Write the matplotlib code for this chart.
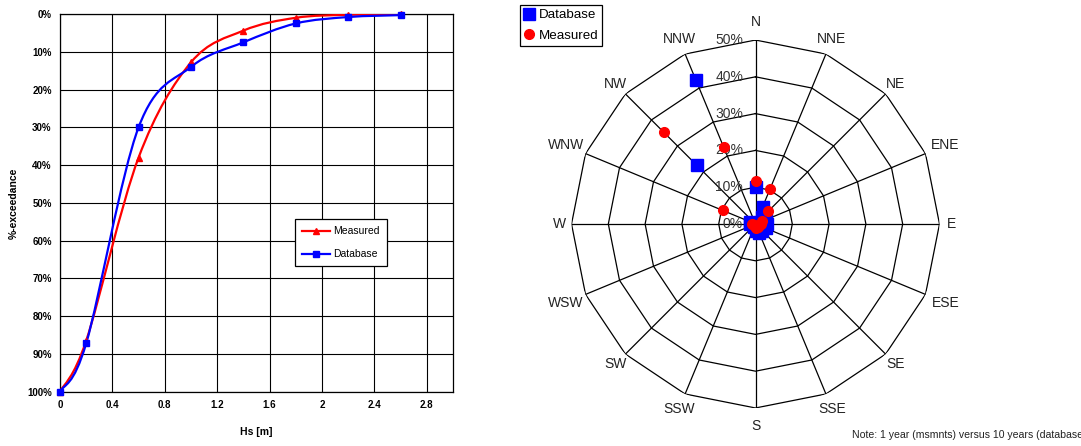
import numpy as np
import matplotlib.pyplot as plt
from matplotlib.path import Path
from matplotlib.patches import PathPatch
from matplotlib.lines import Line2D

plt.rcParams['font.family'] = ['Liberation Sans', 'DejaVu Sans']

# exceedance curves (Hs in m, % of time exceeded)
hs = [0.0, 0.2, 0.6, 1.0, 1.4, 1.8, 2.2, 2.6]
exc_measured = [100.0, 86.5, 38.0, 12.8, 4.4, 1.0, 0.2, 0.0]
exc_database = [100.0, 87.2, 30.0, 14.0, 7.5, 2.5, 0.8, 0.3]

# directional distribution (% of occurrence per sector)
directions = ['N', 'NNE', 'NE', 'ENE', 'E', 'ESE', 'SE', 'SSE',
              'S', 'SSW', 'SW', 'WSW', 'W', 'WNW', 'NW', 'NNW']
dir_database = [10.0, 5.0, 2.5, 3.0, 3.0, 3.0, 2.5, 2.5,
                2.0, 1.0, 0.5, 0.5, 1.5, 1.5, 22.5, 42.3]
dir_measured = [11.7, 10.2, 4.9, 2.0, 1.5, 1.0, 1.0, 1.0,
                1.0, 0.5, 0.5, 0.5, 1.0, 9.7, 35.3, 22.7]
ring_values = [0, 10, 20, 30, 40, 50]


def smooth_path(x, y):
    # cubic bezier through the points, like a spreadsheet "smoothed line"
    p = np.column_stack([x, y]).astype(float)
    ext = np.vstack([p[0], p, p[-1]])
    verts = [p[0]]
    codes = [Path.MOVETO]
    for i in range(len(p) - 1):
        p0, p1, p2, p3 = ext[i], ext[i + 1], ext[i + 2], ext[i + 3]
        c1 = p1 + (p2 - p0) / 6.0
        c2 = p2 - (p3 - p1) / 6.0
        verts += [c1, c2, p2]
        codes += [Path.CURVE4] * 3
    return Path(verts, codes)


fig = plt.figure(figsize=(10.81, 4.46), dpi=100)

# ---- left: exceedance plot
ax = fig.add_axes([0.0555, 0.1218, 0.3635, 0.8468])
for xs, ys, col, mk in [(hs, exc_measured, 'red', '^'), (hs, exc_database, 'blue', 's')]:
    ax.add_patch(PathPatch(smooth_path(xs, ys), fill=False, edgecolor=col, lw=1.6, zorder=3))
    ax.plot(xs, ys, linestyle='none', marker=mk, color=col, ms=4.5, zorder=4, clip_on=False)

ax.set_xlim(0, 3.0)
ax.set_ylim(100, 0)
ax.set_xticks(np.arange(0, 2.81, 0.4))
ax.set_xticklabels(['0', '0.4', '0.8', '1.2', '1.6', '2', '2.4', '2.8'])
ax.set_yticks(np.arange(0, 101, 10))
ax.set_yticklabels([f'{v}%' for v in range(0, 101, 10)])
ax.grid(True, color='black', lw=0.8)
ax.tick_params(length=0, labelsize=7, pad=6)
for lab in ax.get_xticklabels() + ax.get_yticklabels():
    lab.set_fontweight('bold')
for s in ax.spines.values():
    s.set_color('black')
    s.set_linewidth(0.9)
ax.set_xlabel('Hs [m]', fontsize=7.5, fontweight='bold', labelpad=12)
ax.set_ylabel('%-exceedance', fontsize=7.5, fontweight='bold', labelpad=6)

handles = [Line2D([], [], color='red', lw=1.6, marker='^', ms=4.5),
           Line2D([], [], color='blue', lw=1.6, marker='s', ms=4.5)]
leg = ax.legend(handles, ['Measured', 'Database'], loc='upper left',
                bbox_to_anchor=(0.598, 0.457), fontsize=7.5, frameon=True,
                fancybox=False, edgecolor='black', framealpha=1,
                handlelength=2.7, labelspacing=1.25, borderpad=0.68,
                handletextpad=0.3, borderaxespad=0)
leg.get_frame().set_linewidth(0.9)

# ---- right: directional radar
theta = np.deg2rad(np.arange(16) * 22.5)
rax = fig.add_axes([0.5287, 0.0852, 0.3404, 0.8251], projection='polar')
rax.set_theta_zero_location('N')
rax.set_theta_direction(-1)
rax.set_ylim(0, 50)
rax.grid(False)
rax.spines['polar'].set_visible(False)
rax.set_yticks([])
rax.set_xticks([])

closed = np.append(theta, theta[0])
for r in ring_values[1:]:
    rax.plot(closed, [r] * len(closed), color='black', lw=0.9, zorder=1)
for t in theta:
    rax.plot([t, t], [0, 50], color='black', lw=0.9, zorder=1)
for r in ring_values:
    rax.annotate(f'{r}%', xy=(0, r), xytext=(-9, 0), textcoords='offset points',
                 ha='right', va='center', fontsize=10, color='#333333', zorder=2)

# direction names around the outer polygon, pushed out a bit more for wide names
for t, name in zip(theta, directions):
    s, c = np.sin(t), np.cos(t)
    dist = 190 + 5.6 * len(name) * abs(s) + 12 * abs(c) ** 16
    rax.annotate(name, xy=(t, 0), xytext=(dist * s, dist * c),
                 textcoords='offset pixels', ha='center', va='center',
                 fontsize=10, color='#222222', annotation_clip=False)

rax.plot(theta, dir_database, linestyle='none', marker='s', color='blue',
         ms=8, label='Database', zorder=3, clip_on=False)
rax.plot(theta, dir_measured, linestyle='none', marker='o', color='red',
         ms=7, label='Measured', zorder=4, clip_on=False)
rleg = rax.legend(loc='upper left', bbox_to_anchor=(520 / 1081, 1 - 5 / 446),
                  bbox_transform=fig.transFigure, fontsize=9.6, frameon=True,
                  fancybox=False, edgecolor='black', framealpha=1,
                  handlelength=0.8, handletextpad=0.3, borderpad=0.3,
                  labelspacing=0.6, borderaxespad=0)
rleg.get_frame().set_linewidth(0.9)

fig.text(852 / 1081, 11 / 446, 'Note: 1 year (msmnts) versus 10 years (database)',
         fontsize=7.6, ha='left', va='center', color='#222222')

fig.savefig('out.png', dpi=100)
